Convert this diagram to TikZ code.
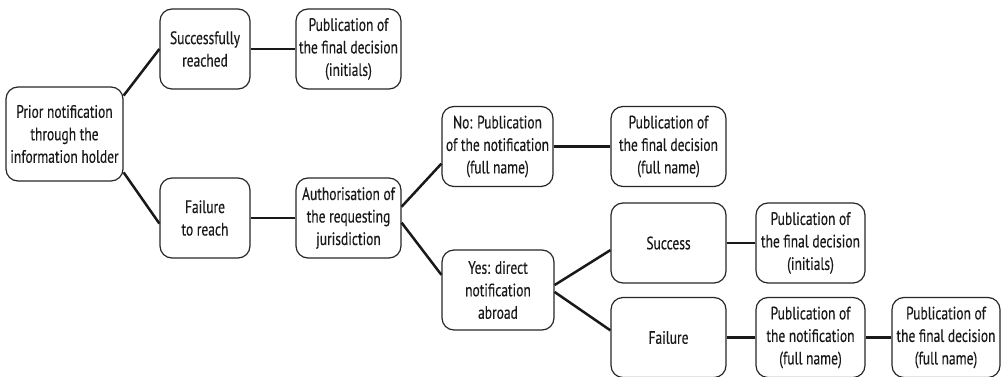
\documentclass[tikz,border=0pt]{standalone}
\usepackage{fontspec}
\setmainfont{PT Sans}[FakeStretch=0.75,FakeBold=0.3]
\begin{document}
\begin{tikzpicture}[x=1pt,y=-1pt,
    box/.style={draw=black!85, line width=1.2pt, rounded corners=12pt, align=center,
      minimum height=80pt, inner sep=0pt, text=black!90,
      font=\fontsize{18}{22.5}\selectfont},
    link/.style={draw=black!90, line width=2.5pt}]
      \useasboundingbox (0,0) rectangle (1003,377);
      \node[box, minimum width=117pt, minimum height=94pt] (prior) at (64.5,134) {Prior notification\\through the\\information holder};
      \node[box, minimum width=90pt] (reached) at (205,49) {Successfully\\reached};
      \node[box, minimum width=105pt] (pubA) at (348.5,49) {Publication of\\the final decision\\(initials)};
      \node[box, minimum width=90pt] (fail) at (205,218) {Failure\\to reach};
      \node[box, minimum width=105pt] (auth) at (348.5,218) {Authorisation of\\the requesting\\jurisdiction};
      \node[box, minimum width=111pt] (noPub) at (497.5,146.5) {No: Publication\\of the notification\\(full name)};
      \node[box, minimum width=115pt] (pubB) at (668.5,146.5) {Publication of\\the final decision\\(full name)};
      \node[box, minimum width=112pt] (yesDir) at (498,290) {Yes: direct\\notification\\abroad};
      \node[box, minimum width=115pt] (success) at (668.5,243) {Success};
      \node[box, minimum width=109pt] (pubC) at (810.5,243) {Publication of\\the final decision\\(initials)};
      \node[box, minimum width=115pt] (failure) at (668.5,337.5) {Failure};
      \node[box, minimum width=109pt] (pubD) at (810.5,337.5) {Publication of\\the notification\\(full name)};
      \node[box, minimum width=108pt] (pubE) at (946,337.5) {Publication of\\the final decision\\(full name)};
      \draw[link] (prior.33) -- (reached.west);
      \draw[link] (prior.-33) -- (fail.187);
      \draw[link] (reached.east) -- (pubA.west);
      \draw[link] (fail.east) -- (auth.west);
      \draw[link] (auth.12) -- (noPub.197);
      \draw[link] (auth.-5) -- (yesDir.165);
      \draw[link] (noPub.east) -- (pubB.west);
      \draw[link] (yesDir.5) -- (success.187);
      \draw[link] (yesDir.-2) -- (failure.173);
      \draw[link] (success.east) -- (pubC.west);
      \draw[link] (failure.east) -- (pubD.west);
      \draw[link] (pubD.east) -- (pubE.west);
    \end{tikzpicture}
\end{document}
